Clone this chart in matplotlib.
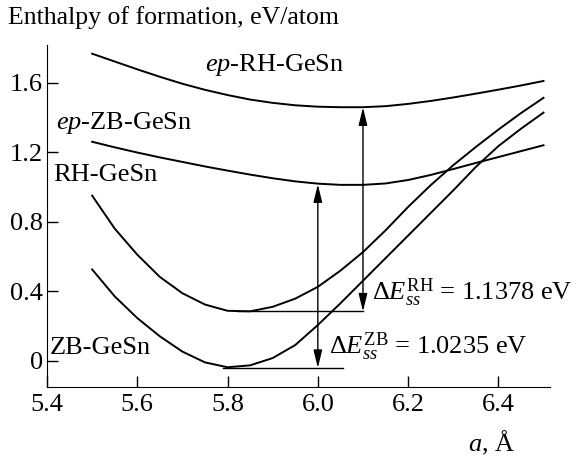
import matplotlib
matplotlib.use('Agg')
import matplotlib.pyplot as plt

plt.rcParams['font.family'] = ['Liberation Serif', 'DejaVu Serif']
plt.rcParams['mathtext.fontset'] = 'custom'
plt.rcParams['mathtext.rm'] = 'Liberation Serif'
plt.rcParams['mathtext.it'] = 'Liberation Serif:italic'

# lattice constant, A
a = [5.50, 5.55, 5.60, 5.65, 5.70, 5.75, 5.80, 5.85, 5.90, 5.95, 6.00,
     6.05, 6.10, 6.15, 6.20, 6.25, 6.30, 6.35, 6.40, 6.45, 6.50]
# enthalpy of formation, eV/atom
ep_rh = [1.767, 1.722, 1.677, 1.634, 1.594, 1.559, 1.529, 1.503, 1.484, 1.470, 1.462,
         1.459, 1.459, 1.465, 1.478, 1.495, 1.515, 1.537, 1.560, 1.584, 1.610]
ep_zb = [1.260, 1.228, 1.198, 1.170, 1.144, 1.118, 1.094, 1.071, 1.050, 1.032, 1.019,
         1.012, 1.012, 1.020, 1.040, 1.069, 1.103, 1.138, 1.172, 1.206, 1.240]
rh = [0.950, 0.760, 0.610, 0.482, 0.388, 0.323, 0.287, 0.284, 0.310, 0.357, 0.425,
      0.518, 0.625, 0.750, 0.885, 1.010, 1.125, 1.230, 1.330, 1.425, 1.513]
zb = [0.525, 0.370, 0.245, 0.140, 0.052, -0.010, -0.038, -0.027, 0.015, 0.090, 0.205,
      0.330, 0.460, 0.590, 0.720, 0.850, 0.980, 1.115, 1.235, 1.335, 1.428]

# minima and difference arrows
zb_min = -0.042
rh_min = 0.283
ep_zb_min = 1.015
ep_rh_min = 1.458

fig = plt.figure(figsize=(5.77, 4.57), dpi=100)
ax = fig.add_axes([0.0815, 0.1538, 0.8722, 0.7477])

for y in [ep_rh, ep_zb, rh, zb]:
    ax.plot(a, y, color='black', lw=1.4, solid_joinstyle='round')

# horizontal lines at minima
ax.plot([5.79, 6.055], [zb_min, zb_min], color='black', lw=1.0)
ax.plot([5.82, 6.10], [rh_min, rh_min], color='black', lw=1.0)

arrow = dict(arrowstyle='<|-|>,head_length=0.9,head_width=0.22', color='black',
             lw=1.0, shrinkA=0, shrinkB=0, mutation_scale=12)
ax.annotate('', xy=(6.0, ep_zb_min), xytext=(6.0, zb_min), arrowprops=arrow)
ax.annotate('', xy=(6.1, ep_rh_min), xytext=(6.1, rh_min), arrowprops=arrow)

fs = 19
ax.text(5.75, 1.70, r'$\mathit{ep}$-RH-GeSn', fontsize=fs, va='center')
ax.text(5.42, 1.367, r'$\mathit{ep}$-ZB-GeSn', fontsize=fs, va='center')
ax.text(5.413, 1.068, 'RH-GeSn', fontsize=fs, va='center')
ax.text(5.407, 0.075, 'ZB-GeSn', fontsize=fs, va='center')
ax.text(6.12, 0.39, r'$\Delta E_{ss}^{\mathrm{RH}}$ = 1.1378 eV', fontsize=fs, va='center')
ax.text(6.025, 0.08, r'$\Delta E_{ss}^{\mathrm{ZB}}$ = 1.0235 eV', fontsize=fs, va='center')

fig.text(0.014, 0.962, 'Enthalpy of formation, eV/atom', fontsize=18.5, va='center')
fig.text(0.893, 0.031, r'$a$, Å', fontsize=fs, va='center', ha='right')

ax.set_xlim(5.4, 6.515)
ax.set_ylim(-0.15, 1.817)
ax.set_xticks([5.4, 5.6, 5.8, 6.0, 6.2, 6.4])
ax.set_xticklabels(['5.4', '5.6', '5.8', '6.0', '6.2', '6.4'])
ax.set_yticks([0, 0.4, 0.8, 1.2, 1.6])
ax.set_yticklabels(['0', '0.4', '0.8', '1.2', '1.6'])
ax.tick_params(direction='in', length=8, width=1, labelsize=fs)
ax.tick_params(axis='x', pad=5)
ax.tick_params(axis='y', pad=3)
ax.spines['top'].set_visible(False)
ax.spines['right'].set_visible(False)

fig.savefig('out.png', dpi=100)
